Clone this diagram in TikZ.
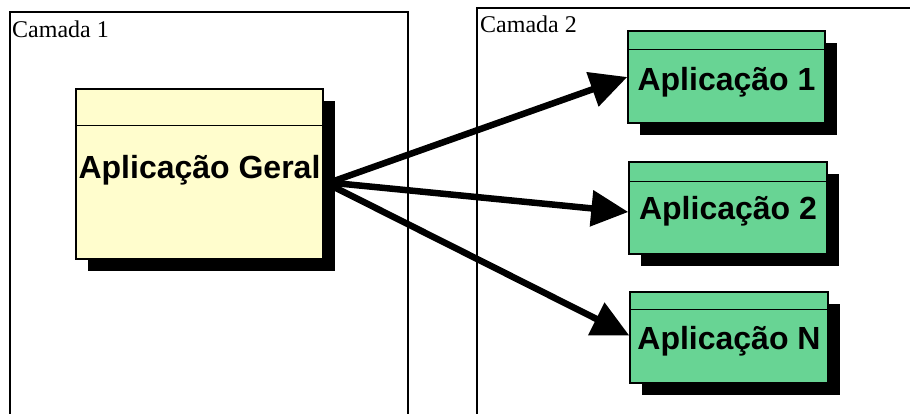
\documentclass[tikz,border=0pt]{standalone}
\usepackage{fontspec}
\setmainfont{Liberation Serif}
\newfontfamily\arialb{Liberation Sans}
\usetikzlibrary{arrows.meta,shadows}
\definecolor{ayellow}{RGB}{255,253,205}
\definecolor{agreen}{RGB}{104,212,148}
\tikzset{
  layer/.style={draw=black, line width=1.4pt},
  layertext/.style={anchor=base west, inner sep=0pt, font=\fontsize{24}{24}\selectfont},
  classbox/.style={draw=black, line width=1.4pt, inner sep=0pt,
    general shadow={fill=black, shadow xshift=12pt, shadow yshift=-12pt}},
  ybox/.style={classbox, fill=ayellow},
  gbox/.style={classbox, fill=agreen},
  boxtext/.style={inner sep=0pt, font=\arialb\bfseries\fontsize{32}{32}\selectfont},
  conn/.style={line width=6.5pt, -{Triangle[length=37pt, width=35pt]}},
}
\begin{document}
\begin{tikzpicture}[x=1pt, y=-1pt]
\useasboundingbox (0,0) rectangle (910,414);
\clip (0,0) rectangle (910,414);
\fill[white] (0,0) rectangle (910,414);
% layers
\draw[layer] (10,12) rectangle (408,430);
\draw[layer] (477,8) rectangle (940,430);
\node[layertext] (c1) at (12,38) {Camada 1};
\node[layertext] (c2) at (480,33) {Camada 2};
% general application
\node[ybox, minimum width=247pt, minimum height=170pt] (geral) at (199.5,174) {};
\draw[line width=1.2pt] ([yshift=-37pt]geral.north west) -- ([yshift=-37pt]geral.north east);
\node[boxtext] (tg) at (199.5,170) {Aplicação Geral};
% apps
\node[gbox, minimum width=197pt, minimum height=92pt] (a1) at (726.5,77) {};
\draw[line width=1.2pt] ([yshift=-19pt]a1.north west) -- ([yshift=-19pt]a1.north east);
\node[boxtext] (t1) at (726.5,82) {Aplicação 1};
\node[gbox, minimum width=198pt, minimum height=92pt] (a2) at (728,208) {};
\draw[line width=1.2pt] ([yshift=-20pt]a2.north west) -- ([yshift=-20pt]a2.north east);
\node[boxtext] (t2) at (728,211) {Aplicação 2};
\node[gbox, minimum width=198pt, minimum height=91pt] (an) at (729,337.5) {};
\draw[line width=1.2pt] ([yshift=-18pt]an.north west) -- ([yshift=-18pt]an.north east);
\node[boxtext] (tn) at (729,341) {Aplicação N};
% connectors
\coordinate (s1) at (334,181);
\coordinate (s2) at (334,183);
\coordinate (s3) at (334,187);
\draw[conn] (s1) -- ([yshift=0pt]a1.west);
\draw[conn] (s2) -- ([yshift=-4pt]a2.west);
\draw[conn] (s3) -- ([yshift=2pt]an.west);
\end{tikzpicture}
\end{document}
